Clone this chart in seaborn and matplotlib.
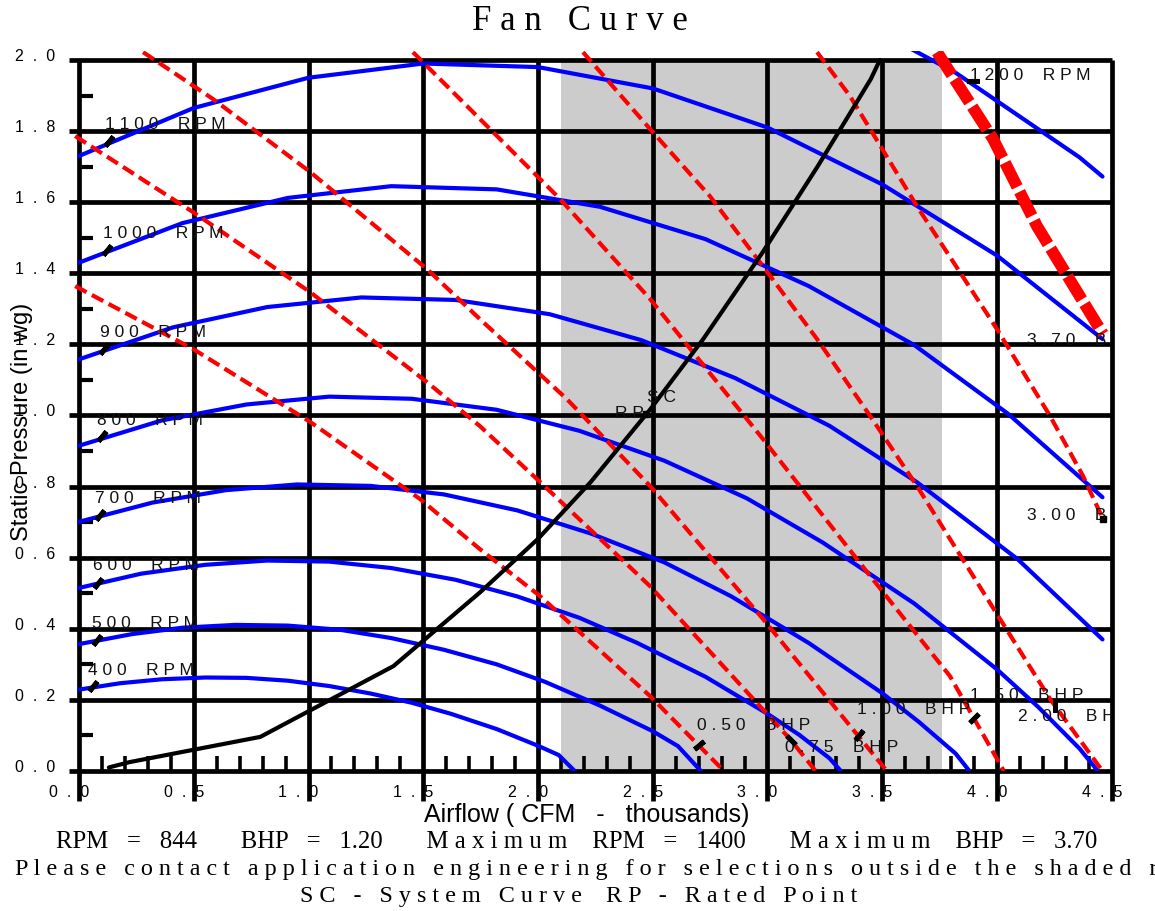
import matplotlib
matplotlib.use('Agg')
import matplotlib.pyplot as plt
from matplotlib.ticker import MultipleLocator, FixedLocator
from matplotlib.transforms import ScaledTranslation
import seaborn as sns

# fan curves: airflow (thousand cfm) / static pressure (in wg), one pair per speed
q_400 = [0, 0.18, 0.36, 0.55, 0.73, 0.91, 1.09, 1.27, 1.45, 1.62, 1.82, 2.0, 2.09, 2.16]
p_400 = [0.229, 0.247, 0.258, 0.263, 0.262, 0.254, 0.239, 0.218, 0.192, 0.161, 0.118, 0.071, 0.045, 0.0]
q_500 = [0, 0.23, 0.45, 0.68, 0.91, 1.14, 1.36, 1.59, 1.82, 2.03, 2.27, 2.5, 2.61, 2.71]
p_500 = [0.357, 0.385, 0.403, 0.411, 0.409, 0.397, 0.374, 0.341, 0.300, 0.251, 0.184, 0.112, 0.070, 0.0]
q_600 = [0, 0.27, 0.55, 0.82, 1.09, 1.36, 1.64, 1.91, 2.18, 2.43, 2.73, 3.0, 3.14, 3.27, 3.32]
p_600 = [0.515, 0.555, 0.580, 0.592, 0.589, 0.571, 0.538, 0.491, 0.431, 0.361, 0.265, 0.161, 0.101, 0.036, 0.0]
q_700 = [0, 0.32, 0.64, 0.95, 1.27, 1.59, 1.91, 2.23, 2.55, 2.84, 3.18, 3.5, 3.66, 3.82, 3.88]
p_700 = [0.701, 0.755, 0.790, 0.806, 0.802, 0.778, 0.733, 0.668, 0.587, 0.492, 0.360, 0.219, 0.138, 0.049, 0.0]
q_800 = [0, 0.36, 0.73, 1.09, 1.45, 1.82, 2.18, 2.55, 2.91, 3.24, 3.64, 4.0, 4.18, 4.36, 4.44]
p_800 = [0.915, 0.986, 1.031, 1.053, 1.047, 1.016, 0.957, 0.873, 0.767, 0.643, 0.471, 0.286, 0.180, 0.063, 0.0]
q_900 = [0, 0.41, 0.82, 1.23, 1.64, 2.05, 2.45, 2.86, 3.27, 3.65, 4.09, 4.46]
p_900 = [1.158, 1.248, 1.305, 1.332, 1.325, 1.285, 1.212, 1.105, 0.971, 0.813, 0.596, 0.37]
q_1000 = [0, 0.45, 0.91, 1.36, 1.82, 2.27, 2.73, 3.18, 3.64, 4.05, 4.46]
p_1000 = [1.43, 1.541, 1.612, 1.645, 1.636, 1.587, 1.496, 1.364, 1.198, 1.004, 0.77]
q_1100 = [0, 0.5, 1.0, 1.5, 2.0, 2.5, 3.0, 3.5, 4.0, 4.46]
p_1100 = [1.73, 1.865, 1.95, 1.99, 1.98, 1.92, 1.81, 1.65, 1.45, 1.215]
q_1200 = [2.73, 3.27, 3.82, 4.36, 4.46]
p_1200 = [2.285, 2.154, 1.964, 1.726, 1.672]

# brake horsepower lines
q_050 = [-0.017, 0.497, 1.007, 1.486, 1.747, 2.009, 2.488, 2.78, 2.81]
p_050 = [1.364, 1.187, 0.982, 0.765, 0.624, 0.492, 0.211, 0.02, 0.0]
q_075 = [-0.017, 0.497, 1.007, 1.516, 1.747, 2.009, 2.488, 3.098, 3.21]
p_075 = [1.786, 1.572, 1.347, 1.094, 0.970, 0.813, 0.520, 0.090, 0.0]
q_100 = [0.279, 0.584, 1.007, 1.516, 1.747, 2.126, 2.488, 2.98, 3.52]
p_100 = [2.022, 1.890, 1.685, 1.412, 1.271, 1.046, 0.802, 0.428, 0.0]
q_150 = [1.455, 1.747, 2.096, 2.488, 2.98, 3.447, 3.795, 4.03]
p_150 = [2.022, 1.834, 1.609, 1.328, 0.934, 0.549, 0.267, 0.0]
q_200 = [2.196, 2.488, 2.749, 2.98, 3.216, 3.447, 3.651, 3.795, 4.013, 4.231, 4.46]
p_200 = [2.022, 1.806, 1.617, 1.42, 1.215, 0.999, 0.802, 0.653, 0.428, 0.203, 0.0]
q_300 = [3.216, 3.359, 3.447, 3.651, 4.0, 4.231, 4.375, 4.462]
p_300 = [2.022, 1.899, 1.806, 1.589, 1.243, 0.999, 0.830, 0.709]
q_370 = [3.739, 3.983, 4.174, 4.462]
p_370 = [2.022, 1.778, 1.533, 1.229]

# system curve + rated point
sys_q = [0.13, 0.22, 0.79, 1.37, 1.75, 2.0, 2.23, 2.49, 2.72, 2.98, 3.22, 3.45, 3.49]
sys_p = [0.01, 0.025, 0.096, 0.295, 0.504, 0.653, 0.813, 1.018, 1.215, 1.46, 1.702, 1.946, 2.0]
rp_q, rp_p = 2.47, 1.005

# shaded selection range
shade_lo, shade_hi = 2.1, 3.76

# curve labels
rpm_labels = ['400 RPM', '500 RPM', '600 RPM', '700 RPM', '800 RPM', '900 RPM', '1000 RPM', '1100 RPM', '1200 RPM']
rpm_text_q = [0.039, 0.057, 0.061, 0.07, 0.078, 0.092, 0.105, 0.113, 3.882]
rpm_text_p = [0.273, 0.405, 0.568, 0.757, 0.976, 1.224, 1.502, 1.809, 1.947]
rpm_mark_q = [0.061, 0.078, 0.083, 0.092, 0.100, 0.109, 0.122, 0.131, 3.895]
rpm_mark_p = [0.239, 0.368, 0.529, 0.720, 0.942, 1.187, 1.466, 1.772, 1.941]
rpm_mark_ang = [-40, -40, -40, -40, -40, -40, -40, -40, 90]

bhp_labels = ['0.50 BHP', '0.75 BHP', '1.00 BHP', '1.50 BHP', '2.00 BHP', '3.00 BHP', '3.70 BHP']
bhp_text_q = [2.693, 3.076, 3.39, 3.882, 4.092, 4.131, 4.131]
bhp_text_p = [0.118, 0.056, 0.163, 0.203, 0.143, 0.709, 1.201]
bhp_mark_q = [2.70, 3.102, 3.40, 3.9, 4.253]
bhp_mark_p = [0.072, 0.087, 0.10, 0.15, 0.184]
bhp_mark_ang = [-50, 45, -40, -45, 0]

x_major = [0.0, 0.5, 1.0, 1.5, 2.0, 2.5, 3.0, 3.5, 4.0, 4.5]
y_major = [0.0, 0.2, 0.4, 0.6, 0.8, 1.0, 1.2, 1.4, 1.6, 1.8, 2.0]
y_minor = [0.1, 0.3, 0.5, 0.7, 0.9, 1.1, 1.3, 1.5, 1.7, 1.9]

rpm_now, bhp_now, rpm_max, bhp_max = '844', '1.20', '1400', '3.70'


def spread(s, gap=' ', word='   '):
    # the original output prints letters spaced out
    return word.join(gap.join(w) for w in s.split(' '))


sns.set_style('white')
plt.rcParams['font.family'] = ['Liberation Sans', 'DejaVu Sans']
plt.rcParams['text.color'] = 'black'
plt.rcParams['xtick.color'] = 'black'
plt.rcParams['ytick.color'] = 'black'

fig = plt.figure(figsize=(11.55, 9.12), dpi=100)
ax = fig.add_axes([0.0595, 0.1535, 0.903, 0.7894])
for s in ax.spines.values():
    s.set_visible(False)
ax.spines['left'].set_position(('data', 0))
ax.spines['bottom'].set_position(('data', 0))

ax.fill_between([shade_lo, shade_hi], 0, 2.0, color='#cccccc', lw=0, zorder=0)

ax.hlines(y_major, -0.045, 4.5, color='black', lw=3.4, zorder=1, clip_on=False)
ax.vlines(x_major, -0.085, 2.0, color='black', lw=3.4, zorder=1, clip_on=False)

rpm_curves = [(q_400, p_400), (q_500, p_500), (q_600, p_600), (q_700, p_700), (q_800, p_800),
              (q_900, p_900), (q_1000, p_1000), (q_1100, p_1100), (q_1200, p_1200)]
for q, p in rpm_curves:
    sns.lineplot(x=q, y=p, ax=ax, color='#0000ff', lw=3, sort=False, estimator=None, zorder=2)

bhp_curves = [(q_050, p_050), (q_075, p_075), (q_100, p_100), (q_150, p_150), (q_200, p_200), (q_300, p_300)]
for q, p in bhp_curves:
    sns.lineplot(x=q, y=p, ax=ax, color='#ff0000', lw=3, sort=False, estimator=None, zorder=3)
    ax.lines[-1].set_dashes([3.1, 1.45])
sns.lineplot(x=q_370, y=p_370, ax=ax, color='#ff0000', lw=8.5, sort=False, estimator=None, zorder=3)
ax.lines[-1].set_dashes([2.3, 0.45])

sns.lineplot(x=sys_q, y=sys_p, ax=ax, color='black', lw=3, sort=False, estimator=None, zorder=4)
ax.plot(rp_q, rp_p, marker='s', ms=5, color='black', zorder=5)
ax.plot(q_300[-1], p_300[-1], marker='s', ms=4, color='black', zorder=5, clip_on=False)

lab_kw = dict(fontsize=12.5, ha='left', va='baseline', color='#111111', zorder=6, clip_on=True)
for lab, tq, tp in zip(rpm_labels, rpm_text_q, rpm_text_p):
    ax.text(tq, tp, spread(lab, word='    '), **lab_kw)
for mq, mp, ang in zip(rpm_mark_q, rpm_mark_p, rpm_mark_ang):
    ax.plot(mq, mp, marker=(2, 2, ang), ms=9, mew=3.5, color='black', zorder=6)
for lab, tq, tp in zip(bhp_labels, bhp_text_q, bhp_text_p):
    ax.text(tq, tp, spread(lab, word='    '), **lab_kw)
for mq, mp, ang in zip(bhp_mark_q, bhp_mark_p, bhp_mark_ang):
    ax.plot(mq, mp, marker=(2, 2, ang), ms=9, mew=3.5, color='black', zorder=6)
ax.text(2.336, 0.9955, spread('RP'), **lab_kw)
ax.text(2.475, 1.04, spread('SC'), **lab_kw)

ax.set_xlim(-0.045, 4.5)
ax.set_ylim(0, 2.025)
ax.set_xticks(x_major)
ax.set_xticklabels([spread(f'{v:.1f}', '  ') for v in x_major])
ax.set_yticks(y_major)
ax.set_yticklabels([spread(f'{v:.1f}', '  ') for v in y_major])
ax.xaxis.set_minor_locator(MultipleLocator(0.1))
ax.yaxis.set_minor_locator(FixedLocator(y_minor))
ax.tick_params(which='major', length=0, labelsize=11.5)
ax.tick_params(axis='x', which='major', pad=9)
ax.tick_params(axis='y', which='major', pad=17)
ax.tick_params(which='minor', direction='in', bottom=True, left=True, top=False, right=False)
ax.tick_params(axis='x', which='minor', length=11, width=2.6, color='black')
ax.tick_params(axis='y', which='minor', length=10, width=3, color='black')
for lbl in ax.get_yticklabels():
    lbl.set_va('baseline')
shift = ScaledTranslation(-0.1, 0, fig.dpi_scale_trans)
for lbl in ax.get_xticklabels():
    lbl.set_transform(lbl.get_transform() + shift)

fig.text(0.502, 1 - 22 / 912, spread('Fan Curve'), fontsize=25, family='Liberation Serif', ha='center', va='center')
fig.text(587 / 1155, 1 - 815 / 912, 'Airflow ( CFM   -   thousands)', fontsize=18, ha='center', va='center')
fig.text(22 / 1155, 1 - 422 / 912, 'Static Pressure (in wg)', fontsize=17, rotation=90, ha='center', va='center')

line1 = (f'RPM   =   {rpm_now}       BHP   =   {bhp_now}       {spread("Maximum")}    RPM   =   {rpm_max}       '
         f'{spread("Maximum")}    BHP   =   {bhp_max}')
line2 = spread('Please contact application engineering for selections outside the shaded region')
line3 = spread('SC - System Curve') + '    ' + spread('RP - Rated Point')
serif = dict(fontsize=17.4, family='Liberation Serif', va='center')
fig.text(577 / 1155, 1 - 842 / 912, line1, ha='center', fontsize=17.8, family='Liberation Serif', va='center')
fig.text(15 / 1155, 1 - 870 / 912, line2, ha='left', **serif)
fig.text(579 / 1155, 1 - 897 / 912, line3, ha='center', **serif)

fig.savefig('out.png', dpi=100)
